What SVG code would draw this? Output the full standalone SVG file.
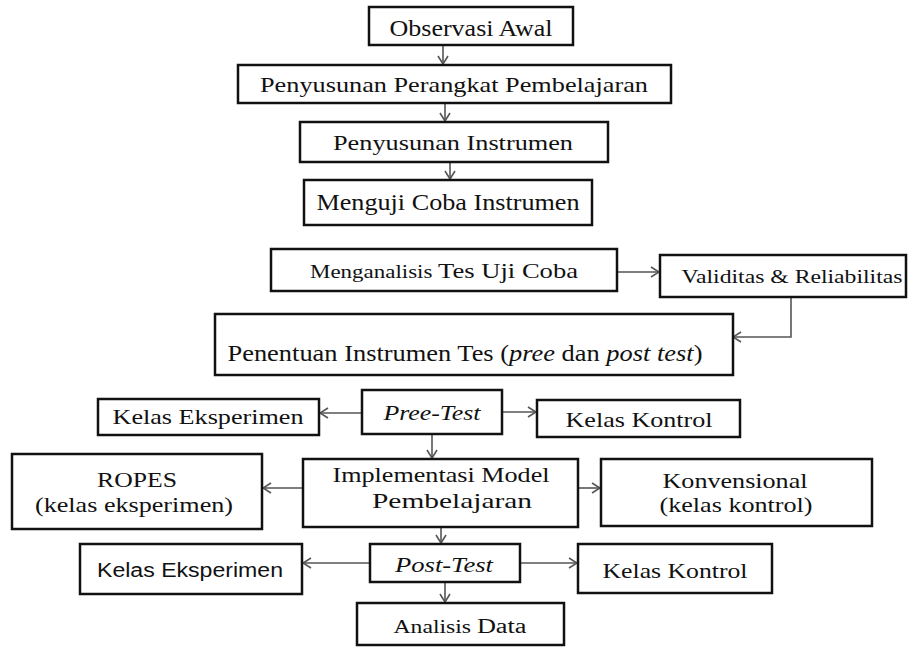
<svg xmlns="http://www.w3.org/2000/svg" width="909" height="648" viewBox="0 0 909 648">
<defs>
<style>
.box{fill:#fff;stroke:#111;stroke-width:2.5}
.t{font-family:"Liberation Serif","Times New Roman",serif;fill:#111;text-anchor:middle}
.s{font-family:"Liberation Sans",Arial,sans-serif;fill:#111;text-anchor:middle}
.c{fill:none;stroke:#555;stroke-width:1.6}
</style>
<marker id="ah" markerWidth="10" markerHeight="12" refX="9" refY="6" orient="auto" markerUnits="userSpaceOnUse">
<path d="M1,1 L9,6 L1,11" fill="none" stroke="#555" stroke-width="1.6"/>
</marker>
</defs>
<rect width="909" height="648" fill="#fff"/>
<g id="connectors">
<line class="c" x1="443" y1="45" x2="443" y2="64" marker-end="url(#ah)"/>
<line class="c" x1="445" y1="103" x2="445" y2="121" marker-end="url(#ah)"/>
<line class="c" x1="450" y1="162" x2="450" y2="179" marker-end="url(#ah)"/>
<line class="c" x1="617" y1="272" x2="659" y2="272" marker-end="url(#ah)"/>
<polyline class="c" points="791,297 791,337 733,337" marker-end="url(#ah)"/>
<line class="c" x1="362" y1="413" x2="320" y2="413" marker-end="url(#ah)"/>
<line class="c" x1="502" y1="412" x2="536" y2="412" marker-end="url(#ah)"/>
<line class="c" x1="432" y1="434" x2="432" y2="458" marker-end="url(#ah)"/>
<line class="c" x1="303" y1="488" x2="263" y2="488" marker-end="url(#ah)"/>
<line class="c" x1="578" y1="488" x2="600" y2="488" marker-end="url(#ah)"/>
<line class="c" x1="441" y1="527" x2="441" y2="543" marker-end="url(#ah)"/>
<line class="c" x1="370" y1="563" x2="303" y2="563" marker-end="url(#ah)"/>
<line class="c" x1="520" y1="563" x2="577" y2="563" marker-end="url(#ah)"/>
<line class="c" x1="445" y1="582" x2="445" y2="602" marker-end="url(#ah)"/>
</g>
<g id="observasi"><rect class="box" x="369" y="7" width="204" height="38"/><text class="t" x="471" y="36" font-size="23" textLength="163" lengthAdjust="spacingAndGlyphs">Observasi Awal</text></g>
<g id="perangkat"><rect class="box" x="238" y="65" width="433" height="38"/><text class="t" x="454" y="92" font-size="22" textLength="388" lengthAdjust="spacingAndGlyphs">Penyusunan Perangkat Pembelajaran</text></g>
<g id="instrumen"><rect class="box" x="300" y="122" width="308" height="40"/><text class="t" x="453" y="150" font-size="22" textLength="240" lengthAdjust="spacingAndGlyphs">Penyusunan Instrumen</text></g>
<g id="ujicoba"><rect class="box" x="304" y="180" width="288" height="45"/><text class="t" x="448" y="210" font-size="23" textLength="263" lengthAdjust="spacingAndGlyphs">Menguji Coba Instrumen</text></g>
<g id="analisis-tes"><rect class="box" x="271" y="249" width="346" height="42"/><text class="t" x="444" y="278" font-size="22" textLength="268" lengthAdjust="spacingAndGlyphs"><tspan font-size="19">Menganalisis </tspan> Tes Uji Coba</text></g>
<g id="validitas"><rect class="box" x="660" y="255" width="246" height="42"/><text class="t" x="792" y="283" font-size="19" textLength="221" lengthAdjust="spacingAndGlyphs">Validitas &amp; Reliabilitas</text></g>
<g id="penentuan"><rect class="box" x="215" y="314" width="518" height="61"/><text class="t" x="465" y="361" font-size="23" textLength="475" lengthAdjust="spacingAndGlyphs">Penentuan Instrumen Tes (<tspan font-style="italic">pree</tspan> dan <tspan font-style="italic">post test</tspan>)</text></g>
<g id="kelas-eks-1"><rect class="box" x="98" y="399" width="221" height="36"/><text class="t" x="208" y="424" font-size="21" textLength="191" lengthAdjust="spacingAndGlyphs">Kelas Eksperimen</text></g>
<g id="pree-test"><rect class="box" x="362" y="390" width="140" height="44"/><text class="t" x="432" y="420" font-size="22" font-style="italic" textLength="97" lengthAdjust="spacingAndGlyphs">Pree-Test</text></g>
<g id="kelas-kon-1"><rect class="box" x="537" y="400" width="203" height="37"/><text class="t" x="639" y="427" font-size="21" textLength="147" lengthAdjust="spacingAndGlyphs">Kelas Kontrol</text></g>
<g id="ropes"><rect class="box" x="12" y="454" width="250" height="75"/><text class="t" x="137" y="487" font-size="21" textLength="80" lengthAdjust="spacingAndGlyphs">ROPES</text><text class="t" x="134" y="512" font-size="21" textLength="198" lengthAdjust="spacingAndGlyphs">(kelas eksperimen)</text></g>
<g id="implementasi"><rect class="box" x="303" y="459" width="275" height="68"/><text class="t" x="441" y="482" font-size="21" textLength="217" lengthAdjust="spacingAndGlyphs">Implementasi Model</text><text class="t" x="452" y="508" font-size="21" textLength="160" lengthAdjust="spacingAndGlyphs">Pembelajaran</text></g>
<g id="konvensional"><rect class="box" x="601" y="459" width="271" height="67"/><text class="t" x="735" y="488" font-size="21" textLength="145" lengthAdjust="spacingAndGlyphs">Konvensional</text><text class="t" x="736" y="512" font-size="21" textLength="153" lengthAdjust="spacingAndGlyphs">(kelas kontrol)</text></g>
<g id="kelas-eks-2"><rect class="box" x="80" y="544" width="222" height="50"/><text class="s" x="190" y="577" font-size="20" textLength="186" lengthAdjust="spacingAndGlyphs">Kelas Eksperimen</text></g>
<g id="post-test"><rect class="box" x="370" y="544" width="150" height="38"/><text class="t" x="444" y="572" font-size="22" font-style="italic" textLength="98" lengthAdjust="spacingAndGlyphs">Post-Test</text></g>
<g id="kelas-kon-2"><rect class="box" x="578" y="544" width="194" height="49"/><text class="t" x="675" y="578" font-size="21" textLength="145" lengthAdjust="spacingAndGlyphs">Kelas Kontrol</text></g>
<g id="analisis-data"><rect class="box" x="357" y="603" width="207" height="42"/><text class="t" x="460" y="633" font-size="20" textLength="133" lengthAdjust="spacingAndGlyphs"><tspan font-size="18">Analisis </tspan> Data</text></g>
</svg>
